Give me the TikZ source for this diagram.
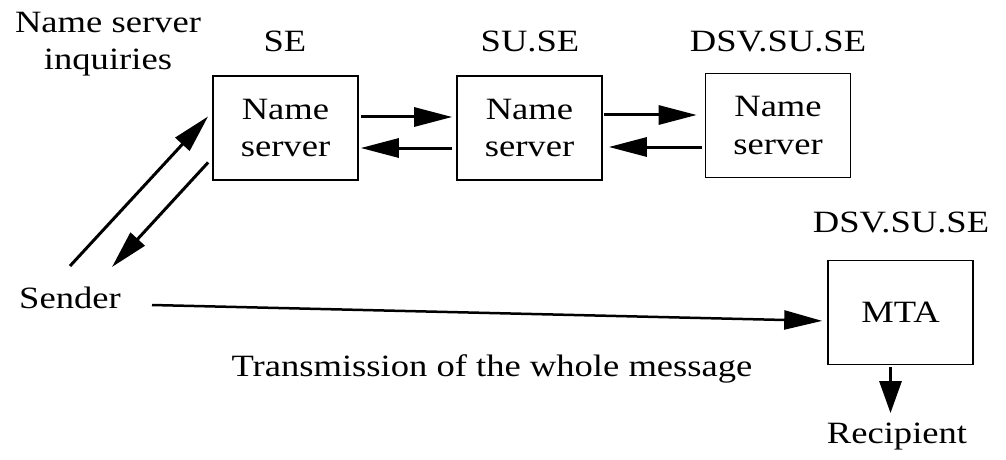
\documentclass[tikz,border=0pt]{standalone}
\usepackage{fontspec}
\setmainfont{Liberation Serif}[FakeStretch=1.18]
\usetikzlibrary{arrows.meta}
\begin{document}
\begin{tikzpicture}[x=0.5pt,y=-0.5pt,
  font=\fontsize{15.5}{18.75}\selectfont,
  box/.style={draw,line width=0.8pt,minimum width=72.5pt,minimum height=52pt,align=center,inner sep=0pt},
  lbl/.style={inner sep=0pt,anchor=base},
  arr/.style={line width=1.5pt,-{Triangle[length=19pt,width=9.5pt]}},
  arrthin/.style={line width=1.25pt,-{Triangle[length=19pt,width=9.5pt]}}]
\useasboundingbox (0,0) rectangle (1006,460);
% boxes
\node[box] (SE)  at (285.5,128) {Name\\server};
\node[box] (SU)  at (529.5,128) {Name\\server};
\node[box] (DSV) at (778,125.5) {Name\\server};
\node[box] (MTA) at (900.5,312.5) {MTA};
% labels
\node[inner sep=0pt,align=center] (inq) at (108,44) {Name server\\inquiries};
\node[lbl] (lSE)  at (285,52) {SE};
\node[lbl] (lSU)  at (530,52) {SU.SE};
\node[lbl] (lDSV) at (778,52) {DSV.SU.SE};
\node[lbl] (lMTA) at (901,232) {DSV.SU.SE};
\node[lbl] (snd)  at (70,308) {Sender};
\node[lbl] (tr)   at (492,376) {Transmission of the whole message};
\node[lbl] (rec)  at (897,443) {Recipient};
% free ends near the sender
\coordinate (s1) at (70,266);
\coordinate (s2) at (112,267);
\coordinate (s3) at (152,305);
% name server chain
\draw[arr,shorten <=1pt,shorten >=2pt] (SE.east |- 0,117) -- (SU.west |- 0,117);
\draw[arr,shorten <=2pt,shorten >=1pt] (SU.west |- 0,148) -- (SE.east |- 0,148);
\draw[arr,shorten <=0.5pt,shorten >=4pt] (SU.east |- 0,115) -- (DSV.west |- 0,115);
\draw[arr,shorten <=1.5pt,shorten >=3pt] (DSV.west |- 0,147) -- (SU.east |- 0,147);
% sender inquiries
\draw[arr,shorten >=3pt] (s1) -- (SE.west |- 0,112);
\draw[arr,shorten <=3pt] (SE.west |- 0,158) -- (s2);
% transmission
\draw[arrthin,shorten >=2.5pt] (s3) -- (MTA.west |- 0,321);
% to recipient
\draw[arr,-{Triangle[length=16pt,width=11pt]},shorten <=1pt,shorten >=4.5pt] ([xshift=-5pt]MTA.south) -- ([xshift=-5pt]MTA.south |- rec.north);
\end{tikzpicture}
\end{document}
